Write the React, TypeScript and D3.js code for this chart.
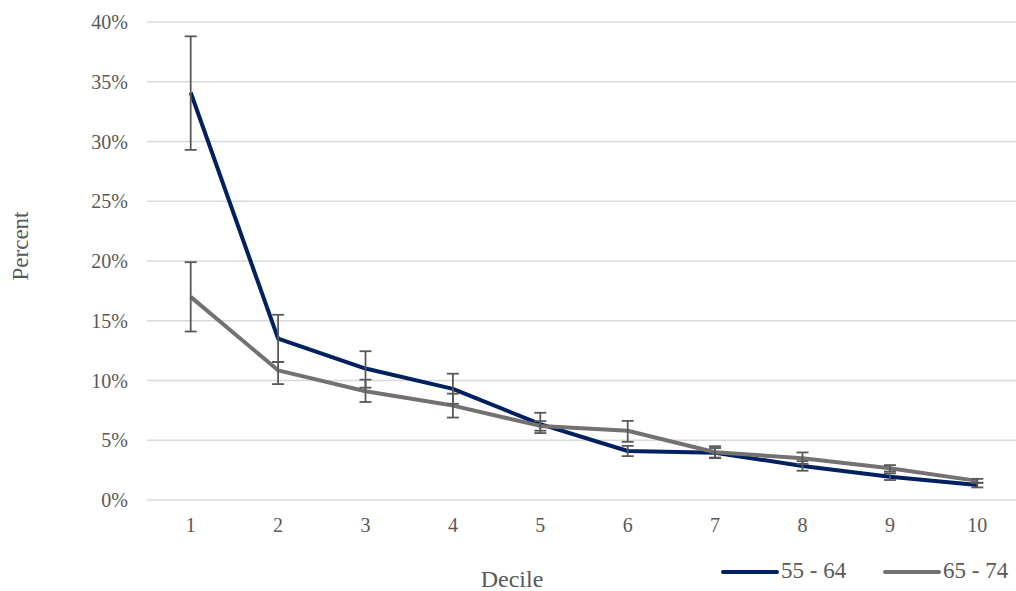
import React from 'react';
import * as d3 from 'd3';

const deciles = ['1', '2', '3', '4', '5', '6', '7', '8', '9', '10'];
const yTicks = [0, 5, 10, 15, 20, 25, 30, 35, 40];

// 55 - 64
const age5564 = [34.1, 13.5, 11.0, 9.3, 6.35, 4.1, 3.95, 2.85, 1.95, 1.25];
const age5564Low = [29.3, 11.55, 9.4, 8.05, 5.6, 3.67, 3.55, 2.45, 1.67, 1.05];
const age5564High = [38.8, 15.5, 12.45, 10.57, 7.3, 4.53, 4.35, 3.25, 2.23, 1.45];

// 65 - 74
const age6574 = [17.0, 10.85, 9.1, 7.9, 6.2, 5.8, 4.0, 3.5, 2.65, 1.6];
const age6574Low = [14.1, 9.7, 8.2, 6.9, 5.8, 4.87, 3.5, 3.02, 2.38, 1.43];
const age6574High = [19.9, 11.55, 10.07, 8.9, 6.6, 6.62, 4.5, 3.98, 2.92, 1.77];

const series = [
  { name: '55 - 64', color: '#002060', values: age5564, low: age5564Low, high: age5564High },
  { name: '65 - 74', color: '#767171', values: age6574, low: age6574Low, high: age6574High },
];

const width = 1016;
const height = 591;
const font = "'Times New Roman', Tinos, 'Liberation Serif', 'DejaVu Serif', serif";
const textColor = '#595959';

export default function App() {
  const x = d3.scalePoint<string>().domain(deciles).range([147, 1021]).padding(0.5);
  const y = d3.scaleLinear().domain([0, 40]).range([500, 22]);

  const line = d3
    .line<number>()
    .x((_, i) => x(deciles[i]) as number)
    .y(v => y(v));

  return (
    <svg
      width={width}
      height={height}
      viewBox={`0 0 ${width} ${height}`}
      style={{ position: 'absolute', left: 0, top: 0 }}
    >
      <style>{`text { font-family: ${font}; }`}</style>
      <rect width={width} height={height} fill="#fff" />

      {/* gridlines + y labels */}
      {yTicks.map(t => (
        <g key={t}>
          <line x1={147} x2={width} y1={y(t)} y2={y(t)} stroke="#d9d9d9" strokeWidth={1.3} />
          <text x={128} y={y(t)} dy="0.35em" textAnchor="end" fontSize={20} fill={textColor}>
            {t}%
          </text>
        </g>
      ))}

      {/* x labels */}
      {deciles.map(d => (
        <text key={d} x={x(d)} y={532} textAnchor="middle" fontSize={20} fill={textColor}>
          {d}
        </text>
      ))}

      {/* lines */}
      {series.map(s => (
        <path
          key={s.name}
          d={line(s.values) || ''}
          fill="none"
          stroke={s.color}
          strokeWidth={4}
          strokeLinejoin="round"
        />
      ))}

      {/* error bars */}
      {series.map(s =>
        s.values.map((_, i) => {
          const cx = x(deciles[i]) as number;
          const y0 = y(s.low[i]);
          const y1 = y(s.high[i]);
          return (
            <g key={s.name + i} stroke="#595959" strokeWidth={1.8}>
              <line x1={cx} x2={cx} y1={y0} y2={y1} />
              <line x1={cx - 6} x2={cx + 6} y1={y0} y2={y0} />
              <line x1={cx - 6} x2={cx + 6} y1={y1} y2={y1} />
            </g>
          );
        })
      )}

      {/* axis titles */}
      <text transform="translate(28, 246) rotate(-90)" textAnchor="middle" fontSize={23} fill={textColor}>
        Percent
      </text>
      <text x={512} y={587} textAnchor="middle" fontSize={24} fill={textColor}>
        Decile
      </text>

      {/* legend */}
      {series.map((s, i) => {
        const lx = 723 + i * 162;
        return (
          <g key={s.name}>
            <line x1={lx} x2={lx + 54} y1={572} y2={572} stroke={s.color} strokeWidth={4} strokeLinecap="round" />
            <text x={lx + 58} y={578} fontSize={23} fill={textColor}>
              {s.name}
            </text>
          </g>
        );
      })}
    </svg>
  );
}
